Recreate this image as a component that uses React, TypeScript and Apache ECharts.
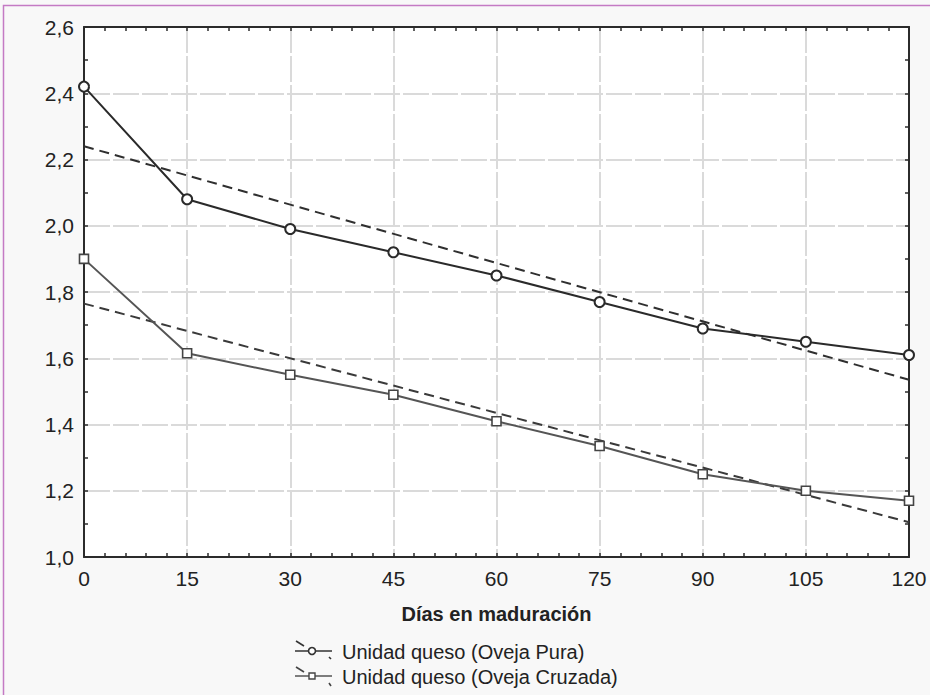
import React, { useEffect, useRef } from "react";
import * as echarts from "echarts";

const days = [0, 15, 30, 45, 60, 75, 90, 105, 120];
const pura = [2.42, 2.08, 1.99, 1.92, 1.85, 1.77, 1.69, 1.65, 1.61];
const cruzada = [1.9, 1.615, 1.55, 1.49, 1.41, 1.335, 1.25, 1.2, 1.17];
const trendDays = [0, 120];
const trendPura = [2.24, 1.535];
const trendCruzada = [1.765, 1.105];
const seriesNames = ["Unidad queso (Oveja Pura)", "Unidad queso (Oveja Cruzada)"];
const xTitle = "Días en maduración";

const FONT = "'Liberation Sans', Arial, sans-serif";

export default function App() {
  const ref = useRef<HTMLDivElement>(null);
  useEffect(() => {
    document.body.style.margin = "0";
    const chart = echarts.init(ref.current!, undefined, { renderer: "svg" });
    const fmt = (v: number) => v.toFixed(1).replace(".", ",");
    const axisCommon = {
      axisLine: { show: true, onZero: false, lineStyle: { color: "#2b2b2b", width: 2 } },
      axisTick: { show: true, inside: true, length: 4, lineStyle: { color: "#2b2b2b", width: 1.5 } },
      minorTick: { show: true, length: 4, lineStyle: { color: "#2b2b2b", width: 1.5 } },
    };
    const gridLine = { show: true, lineStyle: { color: "#dadada", width: 2, type: [26, 3] } };
    const pair = (xs: number[], ys: number[]) => xs.map((x, i) => [x, ys[i]]);
    chart.setOption({
      animation: false,
      backgroundColor: "#f8f8f8",
      textStyle: { fontFamily: FONT },
      grid: { left: 84, right: 21, top: 27, bottom: 138, show: true, backgroundColor: "#ffffff", borderWidth: 0 },
      xAxis: [
        {
          type: "value", min: 0, max: 120, interval: 15, position: "bottom",
          ...axisCommon,
          minorTick: { ...axisCommon.minorTick, splitNumber: 5 },
          splitLine: gridLine,
          axisLabel: { color: "#222", fontSize: 21, margin: 11, fontFamily: FONT },
          name: xTitle, nameLocation: "middle", nameGap: 47,
          nameTextStyle: { color: "#222", fontSize: 20, fontWeight: "bold", fontFamily: FONT },
        },
        {
          type: "value", min: 0, max: 120, interval: 15, position: "top",
          ...axisCommon,
          minorTick: { ...axisCommon.minorTick, splitNumber: 5 },
          splitLine: { show: false }, axisLabel: { show: false },
        },
      ],
      yAxis: [
        {
          type: "value", min: 1.0, max: 2.6, interval: 0.2, position: "left",
          ...axisCommon,
          minorTick: { ...axisCommon.minorTick, splitNumber: 2 },
          splitLine: gridLine,
          axisLabel: { color: "#222", fontSize: 21, margin: 10, formatter: fmt, fontFamily: FONT },
        },
        {
          type: "value", min: 1.0, max: 2.6, interval: 0.2, position: "right",
          ...axisCommon,
          minorTick: { ...axisCommon.minorTick, splitNumber: 2 },
          splitLine: { show: false }, axisLabel: { show: false },
        },
      ],
      series: [
        {
          name: seriesNames[0] + " fit", type: "line", data: pair(trendDays, trendPura), symbol: "none",
          lineStyle: { color: "#2f2f2f", width: 2, type: [10, 6] }, z: 2,
        },
        {
          name: seriesNames[1] + " fit", type: "line", data: pair(trendDays, trendCruzada), symbol: "none",
          lineStyle: { color: "#3a3a3a", width: 2, type: [10, 6] }, z: 2,
        },
        {
          name: seriesNames[0], type: "line", data: pair(days, pura), symbol: "circle", symbolSize: 10,
          lineStyle: { color: "#2a2a2a", width: 2 },
          itemStyle: { color: "#ffffff", borderColor: "#2a2a2a", borderWidth: 2 }, z: 3,
        },
        {
          name: seriesNames[1], type: "line", data: pair(days, cruzada), symbol: "rect", symbolSize: 9,
          lineStyle: { color: "#555555", width: 2 },
          itemStyle: { color: "#ffffff", borderColor: "#444444", borderWidth: 1.6 }, z: 3,
        },
      ],
      graphic: [
        { type: "rect", shape: { x: 3.5, y: 5.5, width: 940, height: 720 }, style: { fill: "none", stroke: "#c47ac4", lineWidth: 1.5 }, silent: true },
        // legend entry 1
        { type: "line", shape: { x1: 296, y1: 641, x2: 304, y2: 646 }, style: { stroke: "#333", lineWidth: 1.6 } },
        { type: "line", shape: { x1: 295, y1: 651, x2: 332, y2: 651 }, style: { stroke: "#333", lineWidth: 1.6 } },
        { type: "circle", shape: { cx: 312, cy: 651, r: 3.5 }, style: { fill: "#fff", stroke: "#333", lineWidth: 1.6 } },
        { type: "line", shape: { x1: 329, y1: 657, x2: 331, y2: 659 }, style: { stroke: "#333", lineWidth: 1.6 } },
        { type: "text", x: 342, y: 652, style: { text: seriesNames[0], font: "20px " + FONT, fill: "#222", verticalAlign: "middle" } },
        // legend entry 2
        { type: "line", shape: { x1: 296, y1: 667, x2: 304, y2: 672 }, style: { stroke: "#444", lineWidth: 1.6 } },
        { type: "line", shape: { x1: 295, y1: 676, x2: 332, y2: 676 }, style: { stroke: "#555", lineWidth: 1.6 } },
        { type: "rect", shape: { x: 309, y: 673, width: 6, height: 6 }, style: { fill: "#fff", stroke: "#444", lineWidth: 1.4 } },
        { type: "line", shape: { x1: 329, y1: 683, x2: 331, y2: 686 }, style: { stroke: "#444", lineWidth: 1.6 } },
        { type: "text", x: 342, y: 677, style: { text: seriesNames[1], font: "20px " + FONT, fill: "#222", verticalAlign: "middle" } },
      ],
    });
    return () => chart.dispose();
  }, []);
  return <div ref={ref} style={{ width: 930, height: 695 }} />;
}
